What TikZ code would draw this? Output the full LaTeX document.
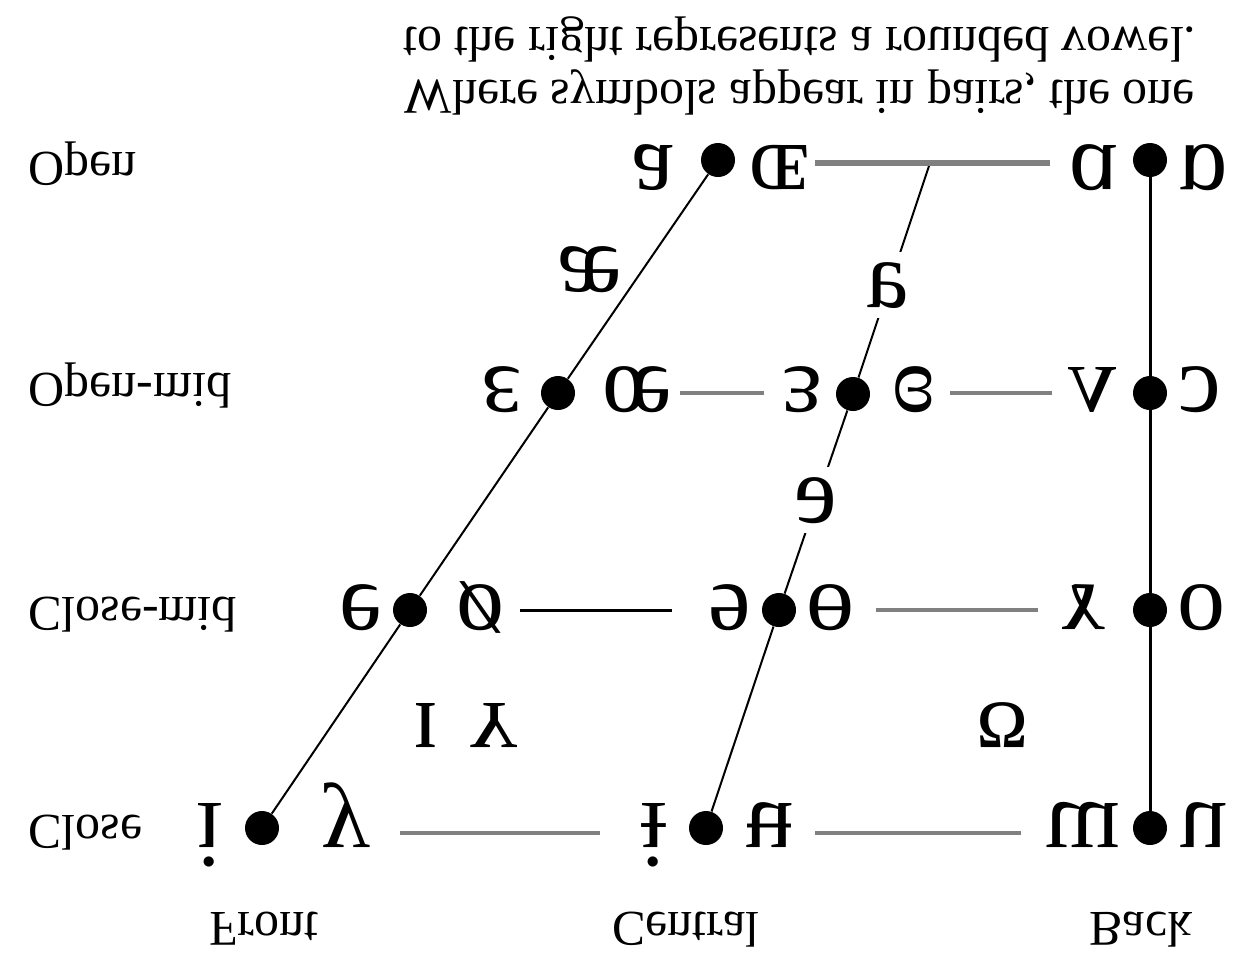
\documentclass[tikz,border=0pt]{standalone}
\usepackage{fontspec}
\setmainfont{Liberation Serif}
\usepackage{graphicx}
\usetikzlibrary{calc}
\newcommand\vflip[1]{\scalebox{1}[-1]{#1}}
\newcommand\labfont{\fontsize{25pt}{30pt}\selectfont}
\newcommand\symfont{\fontsize{48pt}{56pt}\selectfont}
\begin{document}
\begin{tikzpicture}[x=0.5pt,y=-0.5pt,
  dot/.style={circle,fill=black,inner sep=0pt,minimum size=17pt},
  sym/.style={inner sep=0pt,anchor=base,font=\symfont},
  onl/.style={sym,fill=white,inner xsep=2pt,inner ysep=5pt},
  lab/.style={inner sep=0pt,anchor=base west,font=\labfont},
  clab/.style={inner sep=0pt,anchor=base,font=\labfont},
  hline/.style={draw=gray,line width=2pt},
  hlinet/.style={draw=gray,line width=2.6pt},
  hlineb/.style={draw=black,line width=1.5pt},
  sline/.style={draw=black,line width=1pt},
  bline/.style={draw=black,line width=1.5pt}]
\useasboundingbox (0,0) rectangle (1258,960);
\fill[white] (0,0) rectangle (1258,960);

% title
\node[clab] (t1) at (800,27) {\vflip{to the right represents a rounded vowel.}};
\node[clab] (t2) at (800,80) {\vflip{Where symbols appear in pairs, the one}};

% row labels
\node[lab] (lO)  at (28,152) {\vflip{Open}};
\node[lab] (lOM) at (28,373) {\vflip{Open-mid}};
\node[lab] (lCM) at (28,597) {\vflip{Close-mid}};
\node[lab] (lC)  at (28,815) {\vflip{Close}};
% column labels
\node[clab] (kF) at (264,912) {\vflip{Front}};
\node[clab] (kC) at (686,912) {\vflip{Central}};
\node[clab] (kB) at (1141,912) {\vflip{Back}};

% dots
\node[dot] (fO)  at (718,160) {};
\node[dot] (bO)  at (1150,160) {};
\node[dot] (fOM) at (558,393) {};
\node[dot] (cOM) at (853,394) {};
\node[dot] (bOM) at (1150,393) {};
\node[dot] (fCM) at (410,610) {};
\node[dot] (cCM) at (779,610) {};
\node[dot] (bCM) at (1150,610) {};
\node[dot] (fC)  at (262,828) {};
\node[dot] (cC)  at (706,828) {};
\node[dot] (bC)  at (1150,828) {};
\coordinate (cTop) at (930,163);

% slanted / vertical lines
\draw[sline] (fC) -- (fCM) -- (fOM) -- (fO);
\draw[sline] (cC) -- (cCM) -- (cOM) -- (cTop);
\draw[bline] (bC) -- (bCM) -- (bOM) -- (bO);

% symbols: open
\node[sym] (sa)  at (653,145) {\vflip{a}};
\node[sym] (soe) at (780,145) {\vflip{ɶ}};
\node[sym] (sA)  at (1095,145) {\vflip{ɑ}};
\node[sym] (sAr) at (1203,145) {\vflip{ɒ}};
% open-mid
\node[sym] (seps) at (502,367) {\vflip{ɛ}};
\node[sym] (soe2) at (637,367) {\vflip{œ}};
\node[sym] (srev) at (803,367) {\vflip{ɜ}};
\node[sym] (scre) at (914,367) {\vflip{ɞ}};
\node[sym] (swed) at (1092,367) {\vflip{ʌ}};
\node[sym] (sopo) at (1200,367) {\vflip{ɔ}};
% close-mid
\node[sym] (se)   at (361,585) {\vflip{e}};
\node[sym] (so)   at (480,585) {\vflip{ø}};
\node[sym] (srevE) at (730,585) {\vflip{ɘ}};
\node[sym] (sbo)  at (830,585) {\vflip{ɵ}};
\node[sym] (sram) at (1084,585) {\vflip{ɤ}};
\node[sym] (sO)   at (1201,585) {\vflip{o}};
% near-close
\node[sym] (sI)   at (426,703) {\vflip{ɪ}};
\node[sym] (sY)   at (494,703) {\vflip{ʏ}};
\node[sym] (sU)   at (1003,703) {\vflip{ʊ}};
% close
\node[sym] (si)   at (210,803) {\vflip{i}};
\node[sym] (sy)   at (346,803) {\vflip{y}};
\node[sym] (sbi)  at (654,803) {\vflip{ɨ}};
\node[sym] (sbu)  at (769,803) {\vflip{ʉ}};
\node[sym] (sm)   at (1083,803) {\vflip{ɯ}};
\node[sym] (su)   at (1203,803) {\vflip{u}};
% others
\node[sym] (sae)  at (590,247) {\vflip{æ}};
\node[onl] (sturn) at (888,263) {\vflip{ɐ}};
\node[onl] (schwa) at (816,478) {\vflip{ə}};

% horizontal lines
\draw[hlinet] ($(soe.east|-cTop)+(2pt,0)$) -- ($(sA.west|-cTop)+(-10pt,0)$);
\draw[hline] ($(soe2.east|-fOM)+(4pt,0)$) -- ($(srev.west|-fOM)+(-9pt,0)$);
\draw[hline] ($(scre.east|-fOM)+(7pt,0)$) -- ($(swed.west|-fOM)+(-8pt,0)$);
\draw[hlineb] ($(so.east|-fCM)+(8pt,0)$) -- ($(srevE.west|-fCM)+(-18pt,0)$);
\draw[hline] ($(sbo.east|-cCM)+(11pt,0)$) -- ($(sram.west|-cCM)+(-12pt,0)$);
\draw[hline] ($(sy.east|-fC)+(15pt,-2.5pt)$) -- ($(sbi.west|-fC)+(-20pt,-2.5pt)$);
\draw[hline] ($(sbu.east|-fC)+(11pt,-2.5pt)$) -- ($(sm.west|-fC)+(-12pt,-2.5pt)$);
\end{tikzpicture}
\end{document}
